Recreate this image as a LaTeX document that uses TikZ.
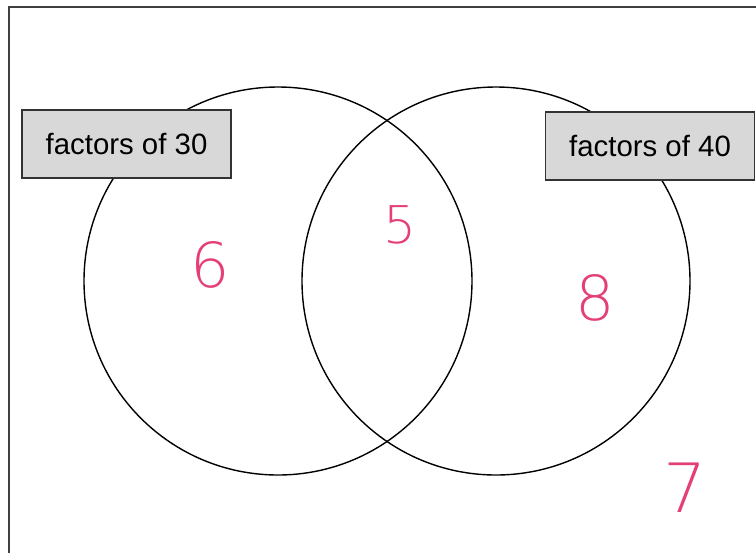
\documentclass[tikz,border=0pt]{standalone}
\usepackage{fontspec}
\newfontfamily\boxfont{Liberation Sans}
\newfontfamily\handfont{DejaVu Sans ExtraLight}
\definecolor{handpink}{RGB}{228,64,118}
\definecolor{boxgray}{RGB}{216,216,216}

\begin{document}
\begin{tikzpicture}[x=0.5pt, y=-0.5pt,
    setlabel/.style={draw=black!80, fill=boxgray, line width=0.6pt,
      minimum width=104.5pt, minimum height=34pt, inner sep=0pt,
      font=\boxfont\fontsize{14.7}{16}\selectfont},
    hand/.style={text=handpink, inner sep=0pt,
      font=\handfont\fontsize{31}{31}\selectfont}]
    \useasboundingbox (0,0) rectangle (756,553);
    % frame
    \draw[black!75, line width=1pt] (9,553) -- (9,7) -- (756,7);
    % the two sets
    \draw[line width=0.7pt] (278,281) circle (194);
    \draw[line width=0.7pt] (496,281) circle (194);
    \node[setlabel] (setA) at (126.5,144) {factors of 30};
    \node[setlabel] (setB) at (650,146) {factors of 40};
    % numbers
    \node[hand] (six) at (210,265) {6};
    \node[hand, font=\handfont\fontsize{26}{26}\selectfont] (five) at (400,225) {5};
    \node[hand] (eight) at (595,298) {8};
    \node[hand, font=\handfont\fontsize{34}{34}\selectfont] (seven) at (685,488) {7};
\end{tikzpicture}
\end{document}
